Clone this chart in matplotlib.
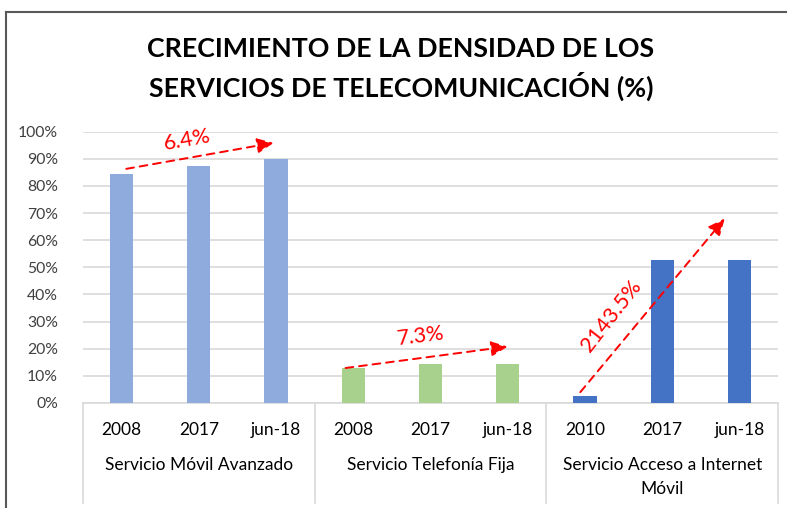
import numpy as np
import matplotlib.pyplot as plt
from matplotlib.lines import Line2D

# Data
years = ['2008', '2017', 'jun-18', '2008', '2017', 'jun-18', '2010', '2017', 'jun-18']
groups = ['Servicio Móvil Avanzado', 'Servicio Telefonía Fija',
          'Servicio Acceso a Internet\nMóvil']
movil = [84.4, 87.5, 89.9]
fija = [13.0, 14.3, 14.3]
internet = [2.6, 52.7, 52.7]
growth = ['6.4%', '7.3%', '2143.5%']

colors = ['#8FAADC', '#A9D18E', '#4472C4']
font = 'Lato'

fig = plt.figure(figsize=(7.87, 5.08), dpi=100)
ax = fig.add_axes([83 / 787, 1 - 403 / 508, (778 - 83) / 787, (403 - 131.7) / 508])

x = np.arange(len(years))
vals = [movil, fija, internet]
for g in range(3):
    ax.bar(x[g * 3:g * 3 + 3], vals[g], width=0.3, color=colors[g], zorder=3)

ax.set_xlim(-0.5, len(years) - 0.5)
ax.set_ylim(0, 100)
ax.set_yticks(np.arange(0, 101, 10))
ax.set_yticklabels(['%d%%' % v for v in range(0, 101, 10)], fontfamily=font, fontsize=11.3,
                   color='#404040')
ax.tick_params(axis='y', length=0, pad=18)
ax.tick_params(axis='x', length=0)
ax.set_xticks([])
ax.grid(axis='y', color='#D9D9D9', linewidth=1.2, zorder=0)
for s in ['left', 'right', 'top']:
    ax.spines[s].set_visible(False)
ax.spines['bottom'].set_color('#D9D9D9')
ax.spines['bottom'].set_linewidth(1.2)

# category labels (two levels)
for i, y in enumerate(years):
    ax.text(i, -0.0995, y, transform=ax.get_xaxis_transform(), ha='center', va='center',
            fontfamily=font, fontsize=12.5, color='#000000')
for g, name in enumerate(groups):
    ax.text(g * 3 + 1, -0.198, name, transform=ax.get_xaxis_transform(), ha='center', va='top',
            fontfamily=font, fontsize=12.5, linespacing=1.6, color='#000000')
for sx in [-0.5, 2.5, 5.5, 8.5]:
    ax.add_line(Line2D([sx, sx], [0, -0.369], transform=ax.get_xaxis_transform(),
                       color='#D9D9D9', linewidth=1.2, clip_on=False))

# growth arrows
arrows = [((0.06, 86.3), (1.97, 95.9), (0.85, 96.9), 10),
          ((2.90, 12.9), (5.0, 20.8), (3.88, 24.6), 7),
          ((5.94, 4.0), (7.81, 68.0), (6.34, 32.0), 52)]
for (start, end, lab, rot), txt in zip(arrows, growth):
    ax.annotate('', xy=end, xytext=start,
                arrowprops=dict(arrowstyle='-|>,head_length=1.0,head_width=0.45', color='#FF0000',
                                linestyle=(0, (4, 3)), linewidth=1.4, shrinkA=0, shrinkB=0),
                zorder=5)
    ax.text(lab[0], lab[1], txt, color='#FF0000', fontsize=15.5, fontfamily=font,
            rotation=rot, ha='center', va='center', rotation_mode='anchor', zorder=5)

fig.text(401 / 787, 1 - 69 / 508, 'CRECIMIENTO DE LA DENSIDAD DE LOS\nSERVICIOS DE TELECOMUNICACIÓN (%)',
         ha='center', va='center', fontfamily=font, fontweight='bold', fontsize=19.3,
         linespacing=1.42, color='#000000')

# outer frame
fig.add_artist(Line2D([6 / 787, 6 / 787], [0, 1 - 12 / 508], color='#595959', linewidth=1.5))
fig.add_artist(Line2D([6 / 787, 1], [1 - 12 / 508, 1 - 12 / 508], color='#595959', linewidth=1.5))

fig.savefig('out.png', dpi=100)
